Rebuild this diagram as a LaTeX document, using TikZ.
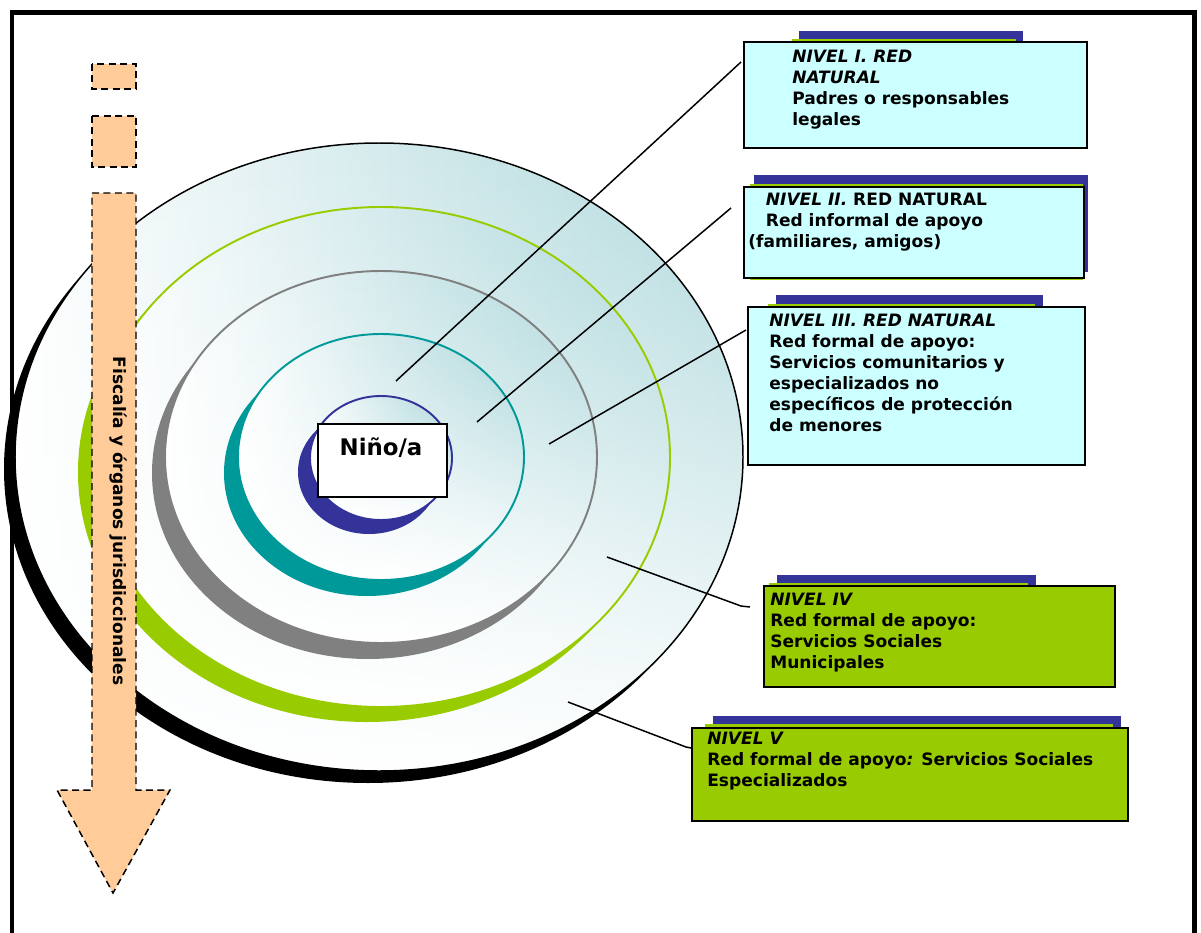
\documentclass[tikz,border=0pt]{standalone}
\usepackage{fontspec}
\setmainfont{DejaVu Sans}
\usepackage{xcolor}
\usetikzlibrary{calc, positioning, fadings}

\definecolor{cian}{HTML}{CCFFFF}
\definecolor{verde}{HTML}{99CC00}
\definecolor{azul}{HTML}{333399}
\definecolor{turquesa}{HTML}{009999}
\definecolor{gris}{HTML}{808080}
\definecolor{melocoton}{HTML}{FFCC99}
\definecolor{fondo}{HTML}{ACD7DB}

\begin{document}
\begin{tikzpicture}[
        x=0.02cm, y=-0.02cm,
        % Estilo de las cajas de nivel
        caja/.style={
            rectangle,
            draw=black,
            line width=1.2pt,
            anchor=north west,
            inner sep=0pt
        },
        % Estilo del texto dentro de las cajas
        texto/.style={
            anchor=north west,
            inner sep=0pt,
            align=left,
            font=\fontsize{9.7}{11.9}\selectfont\bfseries
        },
        % Estilo de las lineas guia
        guia/.style={
            draw=black,
            line width=0.85pt
        },
        % Estilo de los tramos de la flecha discontinua
        tramo/.style={
            fill=melocoton,
            draw=black,
            line width=0.85pt,
            dash pattern=on 4pt off 2.5pt
        },
        % Relleno degradado de las elipses
        degradado/.style={
            left color=white,
            right color=fondo
        },
        % Blanqueo hacia abajo
        blanqueo/.style={
            fill=white,
            path fading=north
        }
    ]
    \useasboundingbox (0,0) rectangle (1201,933);
    \clip (0,0) rectangle (1201,933);

    % --- MARCO ---
    \draw[line width=2.8pt] (12,950) -- (12,12.5) -- (1194.5,12.5) -- (1194.5,950);

    % --- ELIPSES ---
    % Nivel V (exterior)
    \fill[black] (368,469) ellipse [x radius=364, y radius=314];
    \shade[degradado] (379,457) ellipse [x radius=364, y radius=314];
    \path[blanqueo] (379,457) ellipse [x radius=364, y radius=314];
    \draw[line width=0.85pt] (379,457) ellipse [x radius=364, y radius=314];

    % Nivel IV
    \fill[verde] (367,472) ellipse [x radius=289, y radius=250];
    \shade[degradado] (381,457) ellipse [x radius=289, y radius=250];
    \path[blanqueo] (381,457) ellipse [x radius=289, y radius=250];
    \draw[verde, line width=1.1pt] (381,457) ellipse [x radius=289, y radius=250];

    % Nivel III
    \fill[gris] (368,473) ellipse [x radius=216, y radius=186];
    \shade[degradado] (381,457) ellipse [x radius=216, y radius=186];
    \path[blanqueo] (381,457) ellipse [x radius=216, y radius=186];
    \draw[gris, line width=1.1pt] (381,457) ellipse [x radius=216, y radius=186];

    % Nivel II
    \fill[turquesa] (367,473) ellipse [x radius=143, y radius=123];
    \shade[degradado] (381,457) ellipse [x radius=143, y radius=123];
    \path[blanqueo] (381,457) ellipse [x radius=143, y radius=123];
    \draw[turquesa, line width=1.1pt] (381,457) ellipse [x radius=143, y radius=123];

    % Nivel I
    \fill[azul] (369,472) ellipse [x radius=71, y radius=62];
    \shade[degradado] (381,458) ellipse [x radius=71, y radius=62];
    \path[blanqueo] (381,458) ellipse [x radius=71, y radius=62];
    \draw[azul, line width=1.1pt] (381,458) ellipse [x radius=71, y radius=62];

    % Centro
    \node[caja, fill=white, minimum width=2.58cm, minimum height=1.46cm] (nino) at (317,423) {};
    \node[font=\fontsize{13}{15}\selectfont\bfseries] (ninotxt) at (381,448) {Niño/a};

    % --- CAJAS DE NIVEL ---
    \fill[azul] (799,31) rectangle (1023,60);
    \fill[verde] (792,39) rectangle (1016,149);
    \node[caja, fill=cian, minimum width=6.86cm, minimum height=2.12cm] (nivel1) at (743,41) {};
    \node[texto] (txt1) at (792,50) {\textit{NIVEL I. RED}\\\textit{NATURAL}\\Padres o responsables\\legales};

    \fill[azul] (754,175) rectangle (1088,272);
    \fill[verde] (750,184) rectangle (1083,280);
    \node[caja, fill=cian, minimum width=6.8cm, minimum height=1.82cm] (nivel2) at (743,186) {};
    \node[texto] (txt2) at (748,193) {\hspace*{10pt}\textit{NIVEL II.} RED NATURAL\\\hspace*{10pt}Red informal de apoyo\\(familiares, amigos)};

    \fill[azul] (776,295) rectangle (1043,330);
    \fill[verde] (768,304) rectangle (1035,466);
    \node[caja, fill=cian, minimum width=6.74cm, minimum height=3.16cm] (nivel3) at (747,306) {};
    \node[texto] (txt3) at (769,314) {\textit{NIVEL III. RED NATURAL}\\Red formal de apoyo:\\Servicios comunitarios y\\especializados no\\específicos de protección\\de menores};

    \fill[azul] (777,575) rectangle (1036,600);
    \fill[verde] (769,583) rectangle (1028,688);
    \node[caja, fill=verde, minimum width=7.02cm, minimum height=2.02cm] (nivel4) at (763,585) {};
    \node[texto] (txt4) at (770,593) {\textit{NIVEL IV}\\Red formal de apoyo:\\Servicios Sociales\\Municipales};

    \fill[azul] (713,716) rectangle (1121,740);
    \fill[verde] (705,724) rectangle (1113,822);
    \node[caja, fill=verde, minimum width=8.72cm, minimum height=1.86cm] (nivel5) at (691,727) {};
    \node[texto] (txt5) at (707,732) {\textit{NIVEL V}\\Red formal de apoyo\textit{:} Servicios Sociales\\Especializados};

    % --- LINEAS GUIA ---
    \coordinate (p1) at (396,381);
    \coordinate (p2) at (477,422);
    \coordinate (p3) at (549,444);
    \coordinate (p4) at (607,557);
    \coordinate (p5) at (568,702);
    \draw[guia] (p1) -- ($(nivel1.north west)+(-2,21)$);
    \draw[guia] (p2) -- ($(nivel2.north west)+(-12,22)$);
    \draw[guia] (p3) -- ($(nivel3.north west)+(-1,24)$);
    \draw[guia] (p4) -- (741,606) -- ($(nivel4.north west)+(-13,22)$);
    \draw[guia] (p5) -- (686,747) -- ($(nivel5.north west)+(0,21)$);

    % --- FLECHA: FISCALIA ---
    \draw[tramo] (92,64) rectangle (136,89);
    \draw[tramo] (92,116) rectangle (136,167);
    \draw[tramo] (92,193) -- (136,193) -- (136,790) -- (170,790) -- (113,893) -- (57,790) -- (92,790) -- cycle;
    \node[texto, anchor=center, rotate=-90] (fiscalia) at (118,521) {Fiscalía y órganos jurisdiccionales};

\end{tikzpicture}
\end{document}
